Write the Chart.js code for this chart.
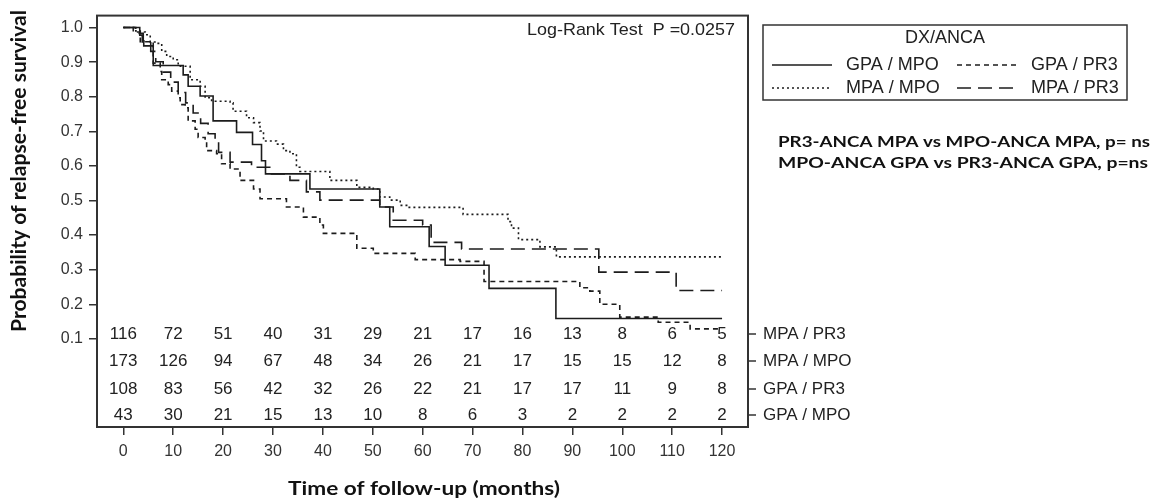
<!DOCTYPE html>
<html><head><meta charset="utf-8">
<script src="https://cdn.jsdelivr.net/npm/chart.js@4"></script>
<style>html,body{margin:0;padding:0;background:#fff}#wrap{width:1157px;height:504px}</style>
</head><body><div id="wrap"><canvas id="c" width="1157" height="504"></canvas></div>
<script>
// ---- data ----
const months = [0,10,20,30,40,50,60,70,80,90,100,110,120];
const yTicks = [0.1,0.2,0.3,0.4,0.5,0.6,0.7,0.8,0.9,1.0];
const groupNames = ['GPA / MPO','GPA / PR3','MPA / MPO','MPA / PR3'];

const gpaMpoT = [0,3.3,3.8,4.1,6.0,12.0,13.0,15.4,18.0,22.7,25.9,27.7,28.5,37.4,51.4,53.4,61.3,64.5,73.3,86.7,120];
const gpaMpoS = [1,0.978,0.958,0.947,0.890,0.863,0.830,0.802,0.730,0.697,0.662,0.615,0.577,0.533,0.481,0.424,0.367,0.313,0.246,0.159,0.159];

const gpaPr3T = [0,2.0,3.4,6.0,7.4,7.7,9.0,9.7,11.0,11.4,12.4,13.0,14.4,15.0,16.4,16.7,18.7,19.7,21.4,23.4,26.1,27.4,32.7,36.1,39.4,40.1,46.8,50.1,58.5,67.5,72.3,91.5,93.5,95.5,99.5,107.2,113.6,120];
const gpaPr3S = [1,0.987,0.959,0.897,0.873,0.849,0.835,0.816,0.797,0.777,0.768,0.730,0.706,0.682,0.672,0.644,0.635,0.606,0.591,0.558,0.533,0.505,0.481,0.452,0.429,0.405,0.362,0.347,0.329,0.324,0.266,0.248,0.238,0.200,0.163,0.148,0.129,0.129];

const mpaMpoT = [0,2.5,3.4,4.4,5.4,6.7,7.7,8.7,10.0,11.0,13.4,15.4,16.4,17.7,21.4,22.0,24.7,26.1,27.4,28.1,30.7,32.1,33.4,34.7,35.4,41.4,46.8,50.1,51.4,53.4,55.5,57.0,68.1,77.1,77.8,79.2,83.5,86.8,120];
const mpaMpoS = [1,0.990,0.987,0.979,0.958,0.954,0.931,0.916,0.907,0.888,0.849,0.830,0.797,0.787,0.782,0.758,0.739,0.725,0.701,0.672,0.663,0.644,0.635,0.596,0.584,0.558,0.538,0.533,0.510,0.501,0.486,0.480,0.460,0.439,0.420,0.387,0.366,0.337,0.337];

const mpaPr3T = [0,2.5,4.0,5.5,6.5,8.0,9.5,11.0,12.5,14.0,15.5,17.0,18.4,19.1,21.4,25.7,29.7,33.4,36.7,39.4,51.4,54.1,60.0,61.7,67.8,95.3,110.8,120];
const mpaPr3S = [1,0.983,0.961,0.931,0.901,0.871,0.842,0.812,0.782,0.753,0.723,0.693,0.672,0.639,0.611,0.596,0.577,0.558,0.525,0.501,0.481,0.443,0.429,0.379,0.360,0.293,0.240,0.240];

const atRiskMpaPr3 = [116,72,51,40,31,29,21,17,16,13,8,6,5];
const atRiskMpaMpo = [173,126,94,67,48,34,26,21,17,15,15,12,8];
const atRiskGpaPr3 = [108,83,56,42,32,26,22,21,17,17,11,9,8];
const atRiskGpaMpo = [43,30,21,15,13,10,8,6,3,2,2,2,2];
const atRiskLabels = ['MPA / PR3','MPA / MPO','GPA / PR3','GPA / MPO'];

const yTitle = 'Probability of relapse-free survival';
const xTitle = 'Time of follow-up (months)';
const legendTitle = 'DX/ANCA';
const logRankText = 'Log-Rank Test  P =0.0257';
const noteLines = ['PR3-ANCA MPA vs MPO-ANCA MPA, p= ns','MPO-ANCA GPA vs PR3-ANCA GPA, p=ns'];

// ---- styles ----
const INK = '#1c1c1c';
const dashes = { 'GPA / MPO': [], 'GPA / PR3': [5,4], 'MPA / MPO': [2,3], 'MPA / PR3': [14,7] };
const series = [[gpaMpoT,gpaMpoS],[gpaPr3T,gpaPr3S],[mpaMpoT,mpaMpoS],[mpaPr3T,mpaPr3S]];

const datasets = groupNames.map((name, i) => ({
  label: name,
  data: series[i][0].map((t, j) => ({x: t, y: series[i][1][j]})),
  stepped: 'before',
  borderColor: INK,
  borderWidth: 1.6,
  borderDash: dashes[name],
  pointRadius: 0,
  fill: false
}));

function fitText(ctx, text, x, y, w, font, rot) {
  ctx.save();
  ctx.font = font;
  const m = ctx.measureText(text).width;
  ctx.translate(x, y);
  if (rot) ctx.rotate(rot);
  ctx.scale(w / m, 1);
  ctx.textAlign = 'center';
  ctx.textBaseline = 'middle';
  ctx.fillText(text, 0, 0);
  ctx.restore();
}

const overlay = {
  id: 'overlay',
  afterDraw(chart) {
    const ctx = chart.ctx, a = chart.chartArea, xs = chart.scales.x;
    ctx.save();
    // frame
    ctx.strokeStyle = '#333'; ctx.lineWidth = 2;
    ctx.strokeRect(a.left, a.top, a.right - a.left, a.bottom - a.top);
    // log-rank
    ctx.fillStyle = '#222';
    fitText(ctx, logRankText, 631, 30, 208, '17px "Liberation Sans", Arial, sans-serif');
    // at-risk table
    const rows = [atRiskMpaPr3, atRiskMpaMpo, atRiskGpaPr3, atRiskGpaMpo];
    const rowOff = [93, 66, 38, 12];
    ctx.font = '17px "Liberation Sans", Arial, sans-serif';
    ctx.textAlign = 'center'; ctx.textBaseline = 'middle';
    rows.forEach((r, ri) => {
      const y = a.bottom - rowOff[ri];
      r.forEach((v, i) => ctx.fillText(String(v), xs.getPixelForValue(months[i]), y));
      ctx.beginPath(); ctx.lineWidth = 1.5; ctx.strokeStyle = '#333';
      ctx.moveTo(a.right, y); ctx.lineTo(a.right + 8, y); ctx.stroke();
      ctx.textAlign = 'left';
      ctx.fillText(atRiskLabels[ri], a.right + 15, y);
      ctx.textAlign = 'center';
    });
    // legend
    const L = {x: 763, y: 25, w: 364, h: 75};
    ctx.lineWidth = 1.5; ctx.strokeStyle = '#333';
    ctx.strokeRect(L.x, L.y, L.w, L.h);
    ctx.font = '18px "Liberation Sans", Arial, sans-serif';
    ctx.textAlign = 'center';
    ctx.fillText(legendTitle, 945, 38);
    const cells = [['GPA / MPO', 772, 65], ['GPA / PR3', 957, 65], ['MPA / MPO', 772, 88], ['MPA / PR3', 957, 88]];
    cells.forEach(([name, x, y]) => {
      ctx.save();
      ctx.beginPath(); ctx.setLineDash(dashes[name]); ctx.lineWidth = 1.6; ctx.strokeStyle = INK;
      ctx.moveTo(x, y); ctx.lineTo(x + 60, y); ctx.stroke();
      ctx.restore();
      ctx.textAlign = 'left';
      ctx.fillText(name, x + 74, y);
    });
    // notes
    ctx.fillStyle = '#111';
    fitText(ctx, noteLines[0], 964, 142, 372, 'bold 15px Lato, "Open Sans", sans-serif');
    fitText(ctx, noteLines[1], 963, 163, 370, 'bold 15px Lato, "Open Sans", sans-serif');
    // axis titles
    fitText(ctx, xTitle, 424, 489, 272, 'bold 19px Lato, "Open Sans", sans-serif');
    fitText(ctx, yTitle, 20, 171, 322, 'bold 20px Lato, "Open Sans", sans-serif', -Math.PI / 2);
    ctx.restore();
  }
};

new Chart(document.getElementById('c'), {
  type: 'line',
  data: { datasets },
  options: {
    responsive: false,
    animation: false,
    devicePixelRatio: 1,
    layout: { padding: { left: 0, right: 409, top: 12, bottom: 0 } },
    plugins: { legend: { display: false }, tooltip: { enabled: false } },
    scales: {
      x: {
        type: 'linear', min: -5.27, max: 125.2,
        afterBuildTicks: s => { s.ticks = months.map(v => ({ value: v })); },
        afterFit: s => { s.height = 77; },
        ticks: { font: { family: '"Liberation Sans", Arial, sans-serif', size: 16 }, color: '#333', padding: 7, autoSkip: false, maxRotation: 0 },
        grid: { drawOnChartArea: false, drawTicks: true, tickLength: 8, color: '#333', lineWidth: 1.5 },
        border: { display: false }
      },
      y: {
        type: 'linear', min: -0.1547, max: 1.0344,
        afterBuildTicks: s => { s.ticks = yTicks.map(v => ({ value: v })); },
        afterFit: s => { s.width = 97; },
        ticks: { font: { family: '"Liberation Sans", Arial, sans-serif', size: 16 }, color: '#333', padding: 6, callback: v => Number(v).toFixed(1) },
        grid: { drawOnChartArea: false, drawTicks: true, tickLength: 8, color: '#333', lineWidth: 1.5 },
        border: { display: false }
      }
    }
  },
  plugins: [overlay]
});
</script>
</body></html>
